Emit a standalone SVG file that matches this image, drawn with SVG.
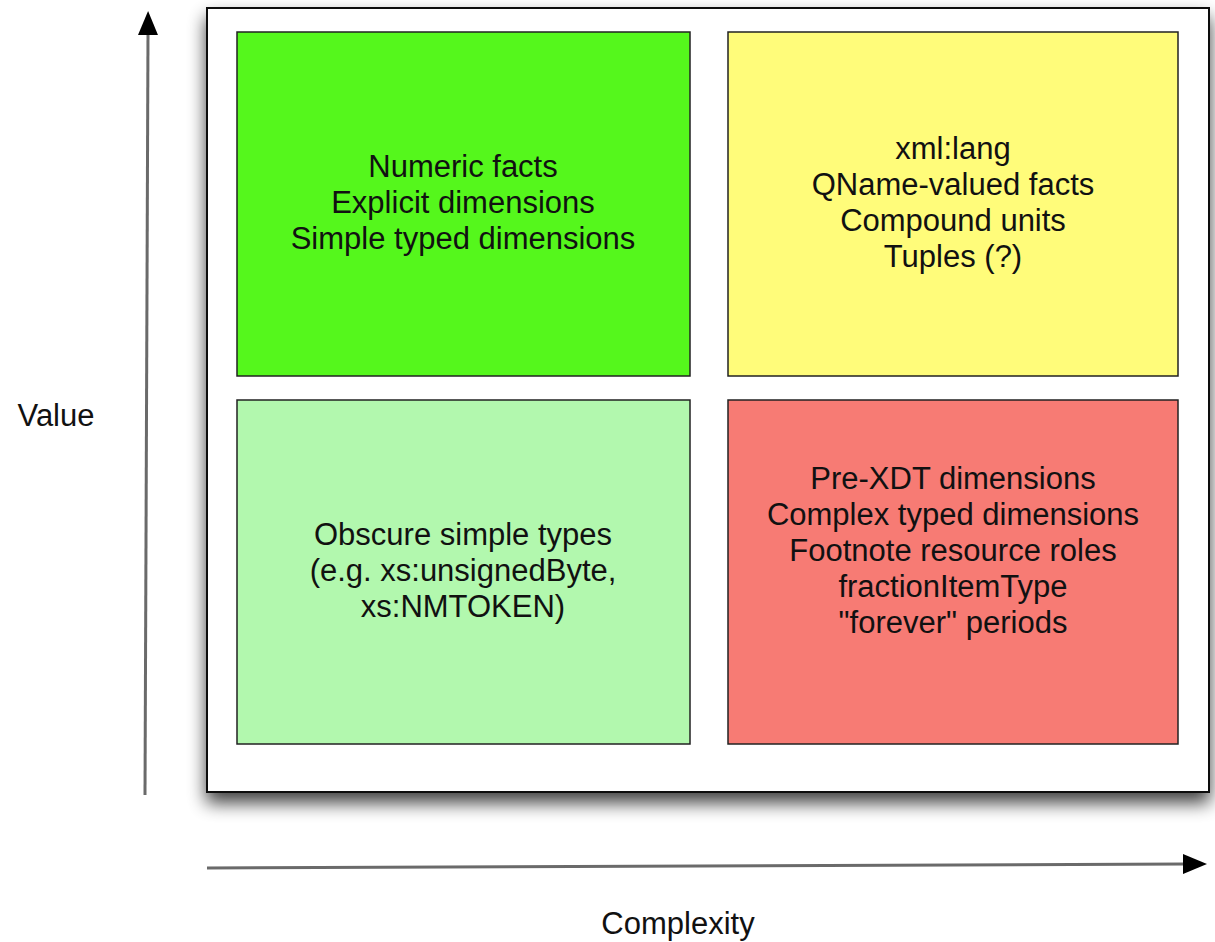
<svg xmlns="http://www.w3.org/2000/svg" width="1215" height="942" viewBox="0 0 1215 942">
<defs>
<style>
text{font-family:"Liberation Sans",Arial,sans-serif;font-size:31px;fill:#111;text-anchor:middle}
.q{stroke:#222;stroke-width:1.5}
.axis{stroke:#6a6a6a;stroke-width:3;fill:none}
</style>
<filter id="sh" x="-10%" y="-10%" width="120%" height="125%">
<feGaussianBlur in="SourceAlpha" stdDeviation="9"/>
<feOffset dx="0" dy="10" result="b"/>
<feComponentTransfer><feFuncA type="linear" slope="0.75"/></feComponentTransfer>
<feMerge><feMergeNode/><feMergeNode in="SourceGraphic"/></feMerge>
</filter>
<marker id="ah" viewBox="0 0 24 20" refX="2" refY="10" markerWidth="24" markerHeight="20" markerUnits="userSpaceOnUse" orient="auto">
<path d="M0,0 L24,10 L0,20 Z" fill="#000"/>
</marker>
</defs>
<rect width="1215" height="942" fill="#fff"/>
<g id="frame">
<rect x="207" y="8" width="1002" height="784" fill="#fff" stroke="#111" stroke-width="2" filter="url(#sh)"/>
</g>
<g id="connectors">
<line class="axis" x1="145" y1="795" x2="148" y2="33" marker-end="url(#ah)"/>
<line class="axis" x1="207" y1="868" x2="1185" y2="864" marker-end="url(#ah)"/>
</g>
<g id="high-value-low-complexity">
<rect class="q" x="237" y="32" width="453" height="344" fill="#55f71c"/>
<text x="463" y="177">Numeric facts</text>
<text x="463" y="213">Explicit dimensions</text>
<text x="463" y="249">Simple typed dimensions</text>
</g>
<g id="high-value-high-complexity">
<rect class="q" x="728" y="32" width="450" height="344" fill="#fffc7a"/>
<text x="953" y="159">xml:lang</text>
<text x="953" y="195">QName-valued facts</text>
<text x="953" y="231">Compound units</text>
<text x="953" y="267">Tuples (?)</text>
</g>
<g id="low-value-low-complexity">
<rect class="q" x="237" y="400" width="453" height="344" fill="#b2f8ae"/>
<text x="463" y="545">Obscure simple types</text>
<text x="463" y="581">(e.g. xs:unsignedByte,</text>
<text x="463" y="617">xs:NMTOKEN)</text>
</g>
<g id="low-value-high-complexity">
<rect class="q" x="728" y="400" width="450" height="344" fill="#f77b74"/>
<text x="953" y="489">Pre-XDT dimensions</text>
<text x="953" y="525">Complex typed dimensions</text>
<text x="953" y="561">Footnote resource roles</text>
<text x="953" y="597">fractionItemType</text>
<text x="953" y="633">"forever" periods</text>
</g>
<g id="labels">
<text x="56" y="426">Value</text>
<text x="678" y="934">Complexity</text>
</g>
</svg>
